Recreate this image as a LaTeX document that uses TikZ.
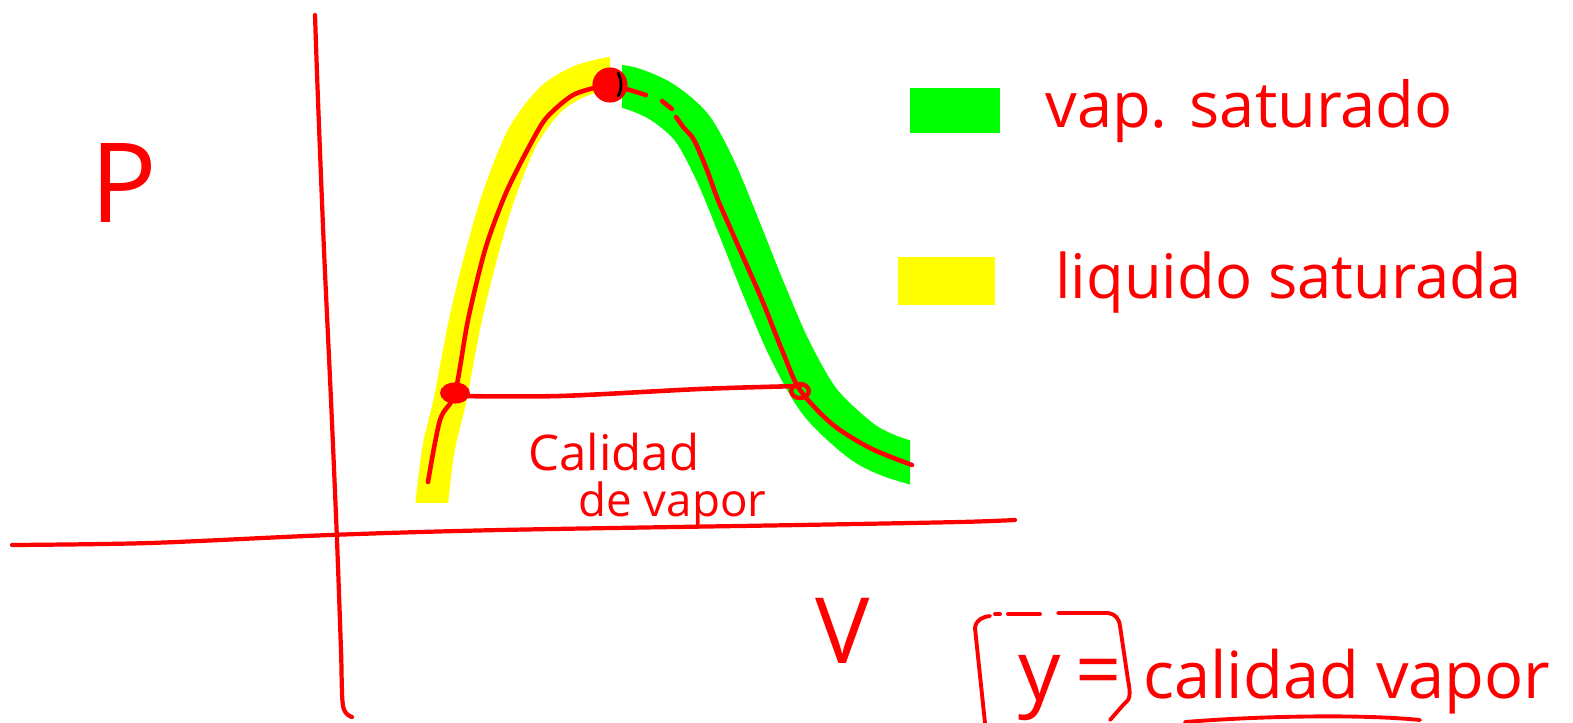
\documentclass[tikz,border=0pt]{standalone}
\usepackage{fontspec}
\setmainfont{Open Sans}
\usetikzlibrary{shapes.geometric}
\definecolor{pen}{RGB}{255,0,0}
\definecolor{hlgreen}{RGB}{0,255,0}
\definecolor{hlyellow}{RGB}{255,255,0}
\begin{document}
\begin{tikzpicture}[x=0.02cm,y=-0.02cm,line cap=round,line join=round,
  ink/.style={draw=pen,line width=2.6pt},
  thinink/.style={draw=pen,line width=2.2pt},
  hand/.style={text=pen,inner sep=0pt,anchor=base west},
  dot/.style={fill=pen,draw=none}]
\useasboundingbox (0,0) rectangle (1573,723);
% highlight bands
\begin{scope}
  \clip (0,0) rectangle (610,502);
  \draw[hlyellow,line width=0.65cm,line cap=butt] plot[smooth] coordinates
    {(630,72) (606,74) (578,82) (550,100) (522,138) (498,198) (480,260) (465,322) (450,400) (438,452) (430,520)};
\end{scope}
\begin{scope}
  \clip (622,0) rectangle (910,723);
  \draw[hlgreen,line width=0.85cm,line cap=butt] plot[smooth] coordinates
    {(600,84) (630,88) (662,102) (692,128) (716,172) (740,230) (764,290) (790,350) (820,402) (860,440) (890,456) (930,468)};
\end{scope}
% legend swatches
\fill[hlgreen] (910,88) rectangle (1000,133);
\fill[hlyellow] (898,257) rectangle (995,305);
% axes
\draw[ink,line width=2.4pt] plot[smooth] coordinates
  {(315,15) (318,100) (324,250) (331,400) (337,540) (341,650) (343,706) (352,717)};
\draw[ink,line width=2.4pt] plot[smooth] coordinates
  {(12,545) (150,543) (330,535) (500,530) (800,525) (960,522) (1015,520)};
% saturation curve
\draw[ink] plot[smooth] coordinates
  {(428,482) (440,420) (455,393) (468,320) (485,250) (503,200) (518,168) (540,127) (552,112) (575,94) (610,84)};
\draw[ink] (610,84) -- (646,95);
\draw[ink] (662,101) -- (672,109);
\draw[ink] plot[smooth] coordinates
  {(676,117) (684,128) (694,140) (707,170) (718,200) (740,250) (762,300) (784,355) (800,390) (832,424) (870,448) (912,465)};
% horizontal tie line
\draw[ink] plot[smooth] coordinates {(455,396) (560,396) (700,389) (800,386)};
% points
\node[dot,circle,minimum size=20pt,inner sep=0pt] (top) at (610,85) {};
\draw[black,line width=1.6pt] (618,73) .. controls (622,80) and (622,90) .. (618,96);
\node[dot,ellipse,minimum width=17pt,minimum height=12pt,inner sep=0pt] (left) at (455,393) {};
\node[draw=pen,line width=2.5pt,ellipse,minimum width=10pt,minimum height=8pt,inner sep=0pt] (right) at (800,391) {};
% labels
\node[hand,font=\fontsize{63}{70}\selectfont] (P) at (90,222) {P};
\node[hand,font=\fontsize{52}{60}\selectfont] (V) at (815,663) {V};
\node[hand,font=\fontsize{28}{32}\selectfont] (cal) at (528,470) {Calidad};
\node[hand,font=\fontsize{26}{30}\selectfont] (dev) at (578,516) {de vapor};
\node[hand,font=\fontsize{36}{40}\selectfont] (vap) at (1045,128) {vap. saturado};
\node[hand,font=\fontsize{35}{40}\selectfont] (liq) at (1055,298) {liquido saturada};
% bottom-right definition
\node[hand,font=\fontsize{48}{50}\selectfont] (y) at (1018,700) {y};
\node[hand,font=\fontsize{46}{50}\selectfont] (eq) at (1075,698) {=};
\node[hand,font=\fontsize{37}{40}\selectfont] (def) at (1143,698) {calidad vapor};
\draw[thinink] (985,723) -- (975,628) .. controls (976,620) and (982,617) .. (990,616);
\draw[thinink] (995,614) -- (1000,614);
\draw[thinink] (1008,614) -- (1040,614);
\draw[thinink] (1058,613) -- (1108,613) .. controls (1115,614) and (1119,618) .. (1120,626) -- (1128,680) .. controls (1131,695) and (1130,700) .. (1124,704) -- (1110,720);
\draw[thinink] (1185,722) .. controls (1260,716) and (1360,714) .. (1420,720);
\end{tikzpicture}
\end{document}
